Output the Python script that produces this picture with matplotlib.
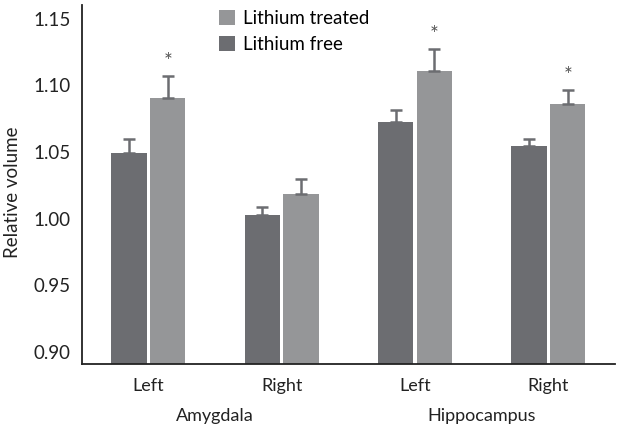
import matplotlib.pyplot as plt
import numpy as np

plt.rcParams['font.family'] = ['Lato', 'DejaVu Sans']

sides = ["Left", "Right", "Left", "Right"]
regions = ["Amygdala", "Hippocampus"]
free_vals = [1.0496, 1.003, 1.0724, 1.0544]
free_err = [0.0098, 0.0055, 0.0090, 0.0053]
treated_vals = [1.0908, 1.0187, 1.111, 1.086]
treated_err = [0.0162, 0.011, 0.0165, 0.0106]
signif = [True, False, True, True]

c_free = "#6c6d71"
c_treat = "#959698"

fig = plt.figure(figsize=(6.29, 4.34), dpi=100)
ax = fig.add_axes([0.130, 0.161, 0.848, 0.827])

x = np.arange(len(sides))
w = 0.265
off = 0.145

ax.bar(x - off, free_vals, width=w, color=c_free, label="Lithium free")
ax.bar(x + off, treated_vals, width=w, color=c_treat, label="Lithium treated")

errkw = dict(fmt="none", ecolor=c_free, elinewidth=1.8, capsize=4, capthick=1.8)
ax.errorbar(x - off, free_vals, yerr=[np.zeros(4), free_err], **errkw)
ax.errorbar(x + off, treated_vals, yerr=[np.zeros(4), treated_err], **errkw)

for i in range(len(sides)):
  if signif[i]:
    ax.text(x[i] + off, treated_vals[i] + treated_err[i] + 0.003, "*",
            ha="center", va="bottom", fontsize=15, color="#555555")

ax.set_ylim(0.891, 1.160)
ax.set_xlim(-0.5, 3.5)
ax.set_yticks([0.90, 0.95, 1.00, 1.05, 1.10, 1.15])
ax.set_yticklabels(["0.90", "0.95", "1.00", "1.05", "1.10", "1.15"])
ax.tick_params(axis="y", length=0, labelsize=13.5, pad=8, colors="#222222")
ax.tick_params(axis="x", length=0, labelsize=13, pad=10, colors="#222222")
ax.set_xticks(x)
ax.set_xticklabels(sides)
ax.set_ylabel("Relative volume", fontsize=13.5, color="#222222")
ax.yaxis.set_label_coords(-0.114, 0.48)

for s in ["top", "right"]:
  ax.spines[s].set_visible(False)
for s in ["left", "bottom"]:
  ax.spines[s].set_linewidth(1.3)
  ax.spines[s].set_color("#222222")

for j, r in enumerate(regions):
  ax.text(j * 2 + 0.5, -0.145, r, transform=ax.get_xaxis_transform(),
          ha="center", va="center", fontsize=13, color="#222222")

h, l = ax.get_legend_handles_labels()
ax.legend(h[::-1], l[::-1], loc="upper left", bbox_to_anchor=(0.225, 1.035),
          frameon=False, fontsize=13.5, handlelength=0.85, handleheight=0.85,
          handletextpad=0.45, labelspacing=0.5)

fig.savefig("out.png", dpi=100)
